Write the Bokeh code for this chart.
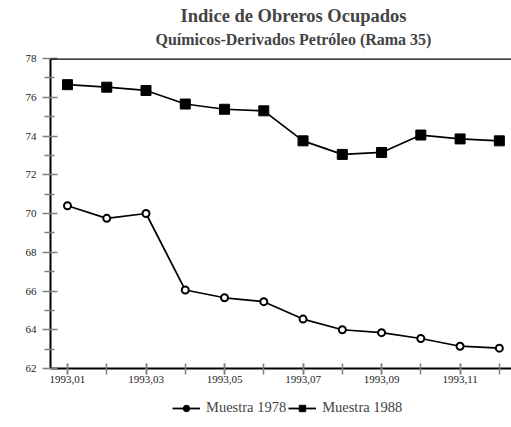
from bokeh.plotting import figure
from bokeh.layouts import column
from bokeh.models import (FixedTicker, Range1d, Span, Title, Legend, LegendItem)
from bokeh.embed import file_html
from bokeh.resources import INLINE

months = list(range(1, 13))
tick_labels = {1: "1993,01", 3: "1993,03", 5: "1993,05", 7: "1993,07", 9: "1993,09", 11: "1993,11"}
muestra_1978 = [70.4, 69.75, 70.0, 66.05, 65.65, 65.45, 64.55, 64.0, 63.85, 63.55, 63.15, 63.05]
muestra_1988 = [76.65, 76.52, 76.35, 75.65, 75.38, 75.3, 73.75, 73.05, 73.15, 74.05, 73.85, 73.75]
series_names = ["Muestra 1978", "Muestra 1988"]

FONT = "Liberation Serif"

p = figure(width=511, height=396, output_backend="svg", toolbar_location=None,
           x_range=Range1d(0.567, 12.31), y_range=Range1d(62, 78),
           min_border_left=50, min_border_right=0, min_border_top=10, min_border_bottom=28)
p.title = None
p.xgrid.visible = False
p.ygrid.visible = False
p.outline_line_color = None

for ax in (p.xaxis[0], p.yaxis[0]):
    ax.axis_line_color = "black"
    ax.axis_line_width = 2
    ax.major_tick_line_color = "#808080"
    ax.minor_tick_line_color = "#808080"
    ax.major_tick_line_width = 1.5
    ax.minor_tick_line_width = 1.5
    ax.major_label_text_font = FONT
    ax.major_label_text_font_size = "11px"
    ax.major_label_text_color = "#222222"

p.yaxis[0].ticker = FixedTicker(ticks=list(range(62, 79, 2)), minor_ticks=list(range(63, 78, 2)))
p.yaxis[0].major_tick_in = 7
p.yaxis[0].major_tick_out = 8
p.yaxis[0].minor_tick_in = 4
p.yaxis[0].minor_tick_out = 6
p.yaxis[0].major_label_standoff = 6

p.xaxis[0].ticker = FixedTicker(ticks=[1, 3, 5, 7, 9, 11], minor_ticks=months)
p.xaxis[0].major_label_overrides = tick_labels
p.xaxis[0].major_tick_in = 5
p.xaxis[0].major_tick_out = 6
p.xaxis[0].minor_tick_in = 5
p.xaxis[0].minor_tick_out = 6
p.xaxis[0].major_label_standoff = 1

p.add_layout(Span(location=78, dimension="width", line_color="black", line_width=2.5,
                  level="overlay"))

p.line(months, muestra_1978, line_color="black", line_width=1.7)
p.scatter(months, muestra_1978, marker="circle", size=7, fill_color="white",
          line_color="black", line_width=2)
p.line(months, muestra_1988, line_color="black", line_width=1.7)
p.scatter(months, muestra_1988, marker="square", size=10, fill_color="black",
          line_color="black")

spacer = Title(text=" ", text_font_size="7.5px", standoff=0)
sub = Title(text="Químicos-Derivados Petróleo (Rama 35)", align="left", offset=105,
            text_font=FONT, text_font_size="16px", text_font_style="bold", standoff=0)
main = Title(text="Indice de Obreros Ocupados", align="left", offset=130,
             text_font=FONT, text_font_size="18.5px", text_font_style="bold", standoff=6)
p.add_layout(spacer, "above")
p.add_layout(sub, "above")
p.add_layout(main, "above")

# legend strip
lg = figure(width=511, height=24, output_backend="svg", toolbar_location=None,
            x_axis_type=None, y_axis_type=None, x_range=Range1d(0, 1), y_range=Range1d(0, 1),
            min_border_left=50, min_border_right=0, min_border_top=0, min_border_bottom=0)
lg.xgrid.visible = False
lg.ygrid.visible = False
lg.outline_line_color = None
r1l = lg.line([-3, -2], [-3, -3], line_color="black", line_width=1.8)
r1s = lg.scatter([-3], [-3], marker="circle", size=5, fill_color="black", line_color="black")
r2l = lg.line([-3, -2], [-3, -3], line_color="black", line_width=1.8)
r2s = lg.scatter([-3], [-3], marker="square", size=9, fill_color="black", line_color="black")
legend = Legend(items=[LegendItem(label=series_names[0], renderers=[r1l, r1s]),
                       LegendItem(label=series_names[1], renderers=[r2l, r2s])],
                orientation="horizontal", location=(122, 4),
                border_line_color=None, background_fill_alpha=0,
                label_text_font=FONT, label_text_font_size="14.5px",
                glyph_width=28, glyph_height=16, spacing=2, label_standoff=6,
                padding=0, margin=0)
lg.add_layout(legend, "center")

open("out.html", "w").write(file_html(column(p, lg, spacing=0), INLINE))
